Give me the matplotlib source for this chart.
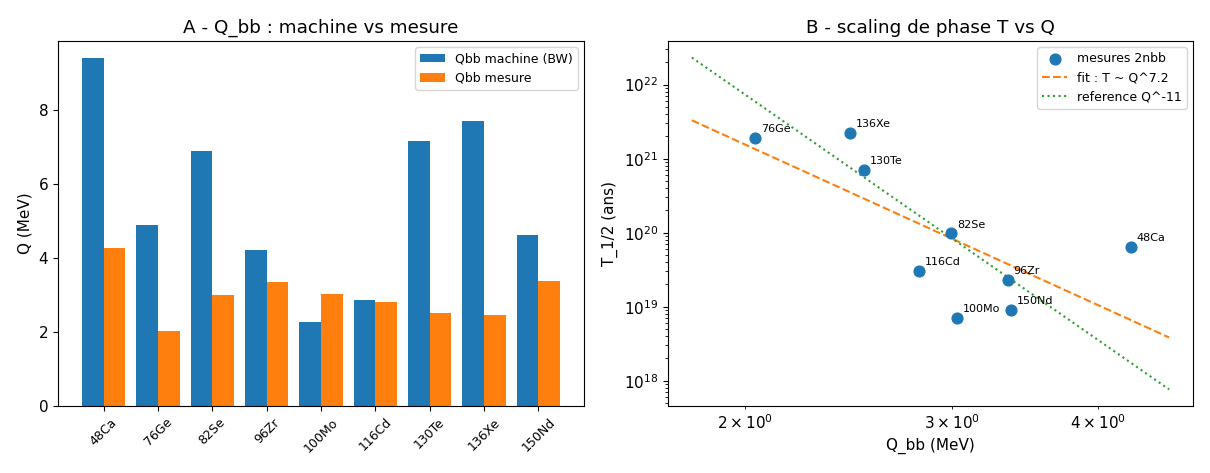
import matplotlib
matplotlib.use("Agg")
import matplotlib.pyplot as plt
import numpy as np

isotopes = ["48Ca", "76Ge", "82Se", "96Zr", "100Mo", "116Cd", "130Te", "136Xe", "150Nd"]
q_machine = [9.40, 4.89, 6.89, 4.21, 2.27, 2.87, 7.16, 7.71, 4.62]
q_mesure = [4.27, 2.039, 2.998, 3.35, 3.034, 2.813, 2.527, 2.458, 3.371]
t_half = [6.4e19, 1.92e21, 9.8e19, 2.3e19, 7.1e18, 3.05e19, 7.1e20, 2.23e21, 9.1e18]

fit_exp = -7.2
fit_amp = 2.27e23
ref_exp = -11.0
ref_amp = 1.49e25
q_line_min, q_line_max = 1.8, 4.6

plt.rcParams["font.size"] = 11

fig = plt.figure(figsize=(12.1, 4.73), dpi=100)
ax1 = fig.add_axes([58/1210, 1-406/473, (584-58)/1210, (406-41)/473])
ax2 = fig.add_axes([668/1210, 1-406/473, (1193-668)/1210, (406-41)/473])

x = np.arange(len(isotopes))
w = 0.4
ax1.bar(x - w/2, q_machine, w, label="Qbb machine (BW)", color="#1f77b4")
ax1.bar(x + w/2, q_mesure, w, label="Qbb mesure", color="#ff7f0e")
ax1.set_xticks(x)
ax1.set_xticklabels(isotopes, rotation=45, fontsize=9)
ax1.set_ylabel("Q (MeV)")
ax1.set_title("A - Q_bb : machine vs mesure", fontsize=13.2)
ax1.legend(fontsize=9)

ax2.scatter(q_mesure, t_half, s=60, label="mesures 2nbb", color="#1f77b4", zorder=3)
for name, q, t in zip(isotopes, q_mesure, t_half):
    ax2.annotate(name, (q, t), xytext=(4, 4), textcoords="offset points", fontsize=8)
qq = np.linspace(q_line_min, q_line_max, 100)
ax2.plot(qq, fit_amp * qq**fit_exp, "--", color="#ff7f0e", label="fit : T ~ Q^7.2")
ax2.plot(qq, ref_amp * qq**ref_exp, ":", color="#2ca02c", label="reference Q^-11")
ax2.set_xscale("log")
ax2.set_yscale("log")
ax2.set_xlabel("Q_bb (MeV)")
ax2.set_ylabel("T_1/2 (ans)")
ax2.set_title("B - scaling de phase T vs Q", fontsize=13.2)
ax2.legend(fontsize=9)

fig.savefig("out.png", dpi=100)
